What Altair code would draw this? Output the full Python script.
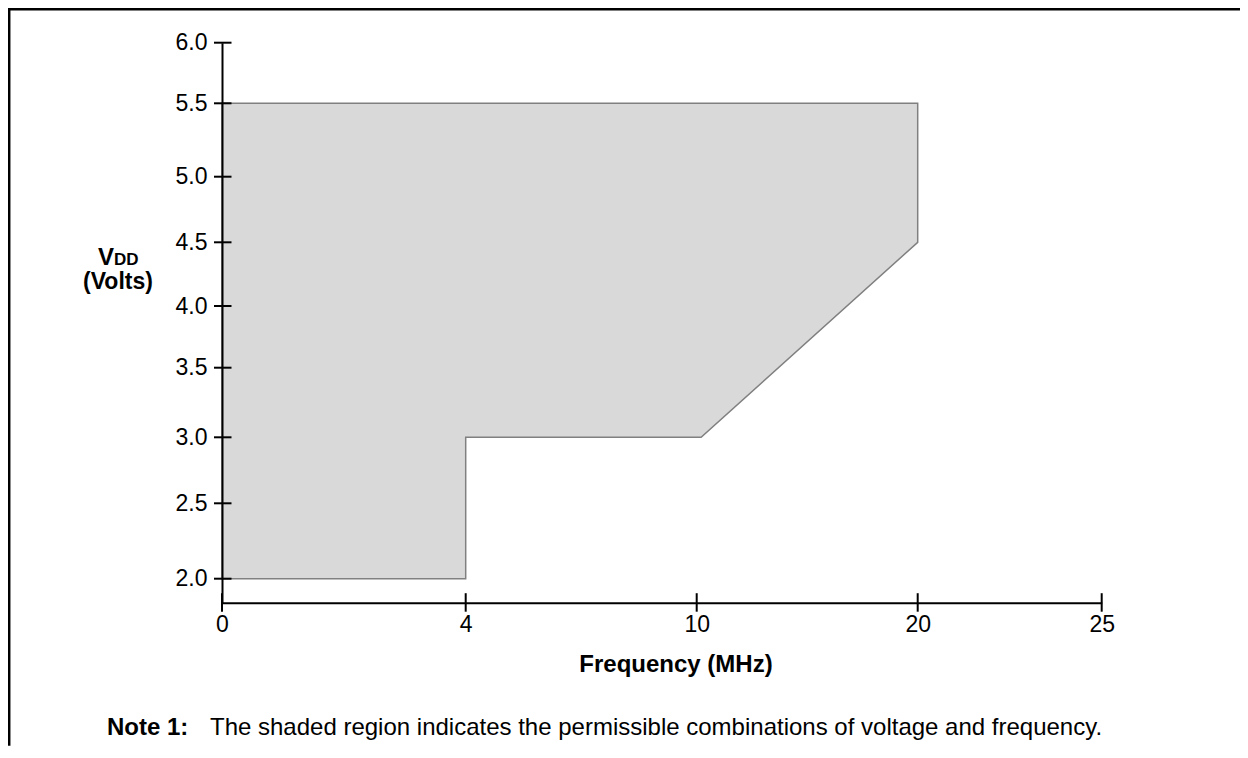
import altair as alt
import pandas as pd

# ---- data ----
freq_ticks = [0, 4, 10, 20, 25]
vdd_ticks = [2.0, 2.5, 3.0, 3.5, 4.0, 4.5, 5.0, 5.5, 6.0]

region_freq = [0, 4, 4, 10.2, 20]
region_vmin = [2.0, 2.0, 3.0, 3.0, 4.5]
region_vmax = [5.5, 5.5, 5.5, 5.5, 5.5]

x_title = ["Frequency (MHz)"]
note_head = ["Note 1:"]
note_body = ["The shaded region indicates the permissible combinations of voltage and frequency."]
y_title_main = ["V"]
y_title_sub = ["DD"]
y_title_unit = ["(Volts)"]

FONT = "Liberation Sans, Arial, Helvetica, sans-serif"

# piecewise (hand-drawn) axes of the original figure
W, H = 879.7, 560
x_scale = alt.Scale(domain=freq_ticks, range=[0, 243.7, 474.7, 695.7, W], nice=False, zero=False)
y_scale = alt.Scale(domain=[1.8] + vdd_ticks,
                    range=[H, 536, 460.6, 394.6, 325, 263.3, 199.6, 134, 60.6, 0],
                    nice=False, zero=False)

x_axis = alt.Axis(values=freq_ticks, format="d", ticks=False, domainColor="black",
                  domainWidth=2, labelFont=FONT, labelFontSize=23, labelColor="black",
                  labelPadding=11, title=None, grid=False, zindex=1, labelFlush=False)
y_axis = alt.Axis(values=vdd_ticks, format=".1f", ticks=False, domainColor="black",
                  domainWidth=2, labelFont=FONT, labelFontSize=23, labelColor="black",
                  labelPadding=15, title=None, grid=False, zindex=1, labelFlush=False)

region = pd.DataFrame({"f": region_freq, "lo": region_vmin, "hi": region_vmax})
xt = pd.DataFrame({"f": freq_ticks})
yt = pd.DataFrame({"v": vdd_ticks})
one = pd.DataFrame({"k": [0]})

area = alt.Chart(region).mark_area(
    fill="#d9d9d9", stroke="#808080", strokeWidth=1.5, fillOpacity=1, orient="vertical"
).encode(
    x=alt.X("f:Q", scale=x_scale, axis=x_axis),
    y=alt.Y("lo:Q", scale=y_scale, axis=y_axis),
    y2="hi:Q",
)

x_ticks = alt.Chart(xt).mark_rule(color="black", strokeWidth=2).encode(
    x=alt.X("f:Q", scale=x_scale, axis=x_axis),
    y=alt.value(H - 9.5), y2=alt.value(H + 9),
)
y_ticks = alt.Chart(yt).mark_rule(color="black", strokeWidth=2).encode(
    y=alt.Y("v:Q", scale=y_scale, axis=y_axis),
    x=alt.value(-8), x2=alt.value(9.5),
)

x_title_t = alt.Chart(pd.DataFrame({"t": x_title})).mark_text(
    font=FONT, fontSize=24, fontWeight="bold", align="center", baseline="alphabetic", color="black"
).encode(text="t:N", x=alt.value(454), y=alt.value(629.5))

note_h = alt.Chart(pd.DataFrame({"t": note_head})).mark_text(
    font=FONT, fontSize=24, fontWeight="bold", align="left", baseline="alphabetic", color="black"
).encode(text="t:N", x=alt.value(-115), y=alt.value(692))

note_b = alt.Chart(pd.DataFrame({"t": note_body})).mark_text(
    font=FONT, fontSize=24, align="left", baseline="alphabetic", color="black"
).encode(text="t:N", x=alt.value(-12), y=alt.value(692))

yt_main = alt.Chart(pd.DataFrame({"t": y_title_main})).mark_text(
    font=FONT, fontSize=24, fontWeight="bold", align="left", baseline="alphabetic", color="black"
).encode(text="t:N", x=alt.value(-124), y=alt.value(222.5))
yt_sub = alt.Chart(pd.DataFrame({"t": y_title_sub})).mark_text(
    font=FONT, fontSize=17, fontWeight="bold", align="left", baseline="alphabetic", color="black"
).encode(text="t:N", x=alt.value(-108), y=alt.value(222.5))
yt_unit = alt.Chart(pd.DataFrame({"t": y_title_unit})).mark_text(
    font=FONT, fontSize=23, fontWeight="bold", align="center", baseline="alphabetic", color="black"
).encode(text="t:N", x=alt.value(-104), y=alt.value(246.5))

frame_top = alt.Chart(one).mark_rule(color="black", strokeWidth=2.5).encode(
    x=alt.value(-214), x2=alt.value(1018.3), y=alt.value(-33.5)
)
frame_left = alt.Chart(one).mark_rule(color="black", strokeWidth=2.5).encode(
    x=alt.value(-212.8), y=alt.value(-34.7), y2=alt.value(703)
)

chart = alt.layer(
    area, x_ticks, y_ticks, x_title_t, note_h, note_b, yt_main, yt_sub, yt_unit, frame_top, frame_left
).properties(
    width=W, height=H,
    background="white",
    autosize=alt.AutoSizeParams(type="none"),
    padding={"left": 214, "top": 34.7, "right": 138.3, "bottom": 143.3},
).configure_view(stroke=None)

chart.save("out.html", embed_options={"renderer": "svg", "actions": False})
